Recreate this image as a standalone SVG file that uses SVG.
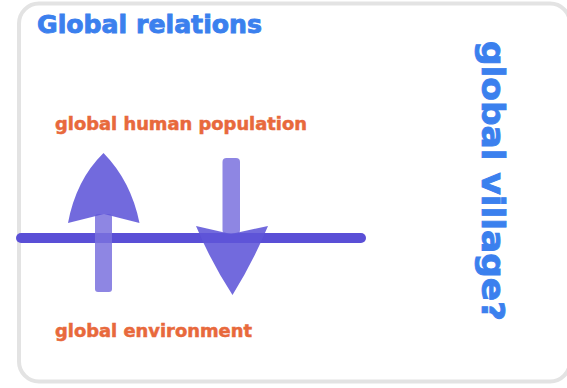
<svg xmlns="http://www.w3.org/2000/svg" width="567" height="388" viewBox="0 0 567 388">
  <style>
    .title { font-family: "DejaVu Sans", Verdana, sans-serif; font-weight: bold; fill: #3b80ee; stroke: #3b80ee; stroke-width: 0.9; }
    .label { font-family: "DejaVu Sans", Verdana, sans-serif; font-weight: bold; fill: #e8693c; stroke: #e8693c; stroke-width: 0.5; }
    .head { fill: #5f55d8; fill-opacity: 0.88; }
    .shaft { fill: #7a71de; fill-opacity: 0.85; }
  </style>
  <rect x="0" y="0" width="567" height="388" fill="#ffffff"/>
  <g id="frame">
    <rect x="19" y="3.5" width="551" height="378" rx="20" ry="20" fill="#ffffff" stroke="#e3e3e3" stroke-width="4"/>
  </g>
  <g id="title">
    <text class="title" x="37" y="33" font-size="25" textLength="225" lengthAdjust="spacingAndGlyphs">Global relations</text>
  </g>
  <g id="population">
    <text class="label" x="55" y="129.5" font-size="17" textLength="252" lengthAdjust="spacingAndGlyphs">global human population</text>
  </g>
  <g id="environment">
    <text class="label" x="55" y="336.5" font-size="17" textLength="197" lengthAdjust="spacingAndGlyphs">global environment</text>
  </g>
  <g id="village">
    <text class="title" transform="translate(482,41) rotate(90)" x="0" y="0" font-size="32" textLength="280" lengthAdjust="spacingAndGlyphs">global village?</text>
  </g>
  <g id="connectors">
    <line id="boundary" x1="21" y1="238" x2="361" y2="238" stroke="#5a4fd6" stroke-width="10" stroke-linecap="round"/>
    <g id="up-arrow">
      <rect class="shaft" x="95" y="214" width="17" height="78" rx="3"/>
      <path class="head" d="M103.5,153 Q76,180 68,223 L104,214 L139.5,223 Q131,181 103.5,153 Z"/>
    </g>
    <g id="down-arrow">
      <rect class="shaft" x="222.5" y="158" width="17.5" height="76" rx="4"/>
      <path class="head" d="M196,226 L231,234 L268,226 Q253,262 232.5,295 Q211,262 196,226 Z"/>
    </g>
  </g>
</svg>
